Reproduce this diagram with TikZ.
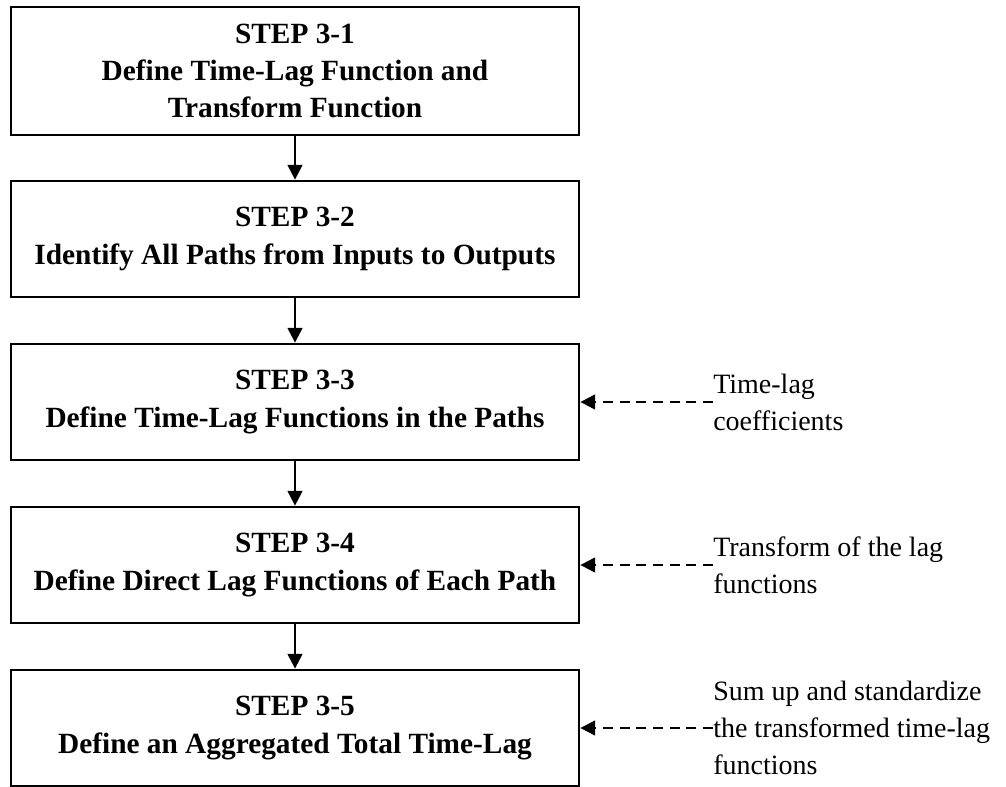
\documentclass[tikz,border=0pt]{standalone}
\usepackage{fontspec}
\setmainfont{Liberation Serif}
\usetikzlibrary{arrows.meta}
\begin{document}
\begin{tikzpicture}[x=0.75pt,y=-0.75pt,
  stepbox/.style={draw,line width=2.1pt,minimum width=426pt,align=center,
    font=\bfseries\fontsize{22}{28}\selectfont,inner sep=0pt},
  flow/.style={line width=1.7pt,-{Triangle[length=11pt,width=11pt]}},
  feed/.style={line width=1.6pt,dash pattern=on 7.5pt off 5pt,-{Triangle[length=11pt,width=11pt]}},
  note/.style={anchor=west,align=left,font=\fontsize{21}{27.75}\selectfont,inner sep=0pt}]
\useasboundingbox (0,0) rectangle (1006,787);
% process steps
\node[stepbox,minimum height=96pt] (s1) at (295,71) {STEP 3-1\\Define Time-Lag Function and\\Transform Function};
\node[stepbox,minimum height=87pt] (s2) at (295,239) {STEP 3-2\\Identify All Paths from Inputs to Outputs};
\node[stepbox,minimum height=87pt] (s3) at (295,402) {STEP 3-3\\Define Time-Lag Functions in the Paths};
\node[stepbox,minimum height=87pt] (s4) at (295,565) {STEP 3-4\\Define Direct Lag Functions of Each Path};
\node[stepbox,minimum height=87pt] (s5) at (295,728) {STEP 3-5\\Define an Aggregated Total Time-Lag};
% side inputs
\node[note] (n3) at (713,402) {Time-lag\\coefficients};
\node[note] (n4) at (713,565) {Transform of the lag\\functions};
\node[note] (n5) at (713,728) {Sum up and standardize\\the transformed time-lag\\functions};
% connectors
\draw[flow] (s1) -- (s2);
\draw[flow] (s2) -- (s3);
\draw[flow] (s3) -- (s4);
\draw[flow] (s4) -- (s5);
\draw[feed] (n3.west) -- (s3.east);
\draw[feed] (n4.west) -- (s4.east);
\draw[feed] (n5.west) -- (s5.east);
\end{tikzpicture}
\end{document}
